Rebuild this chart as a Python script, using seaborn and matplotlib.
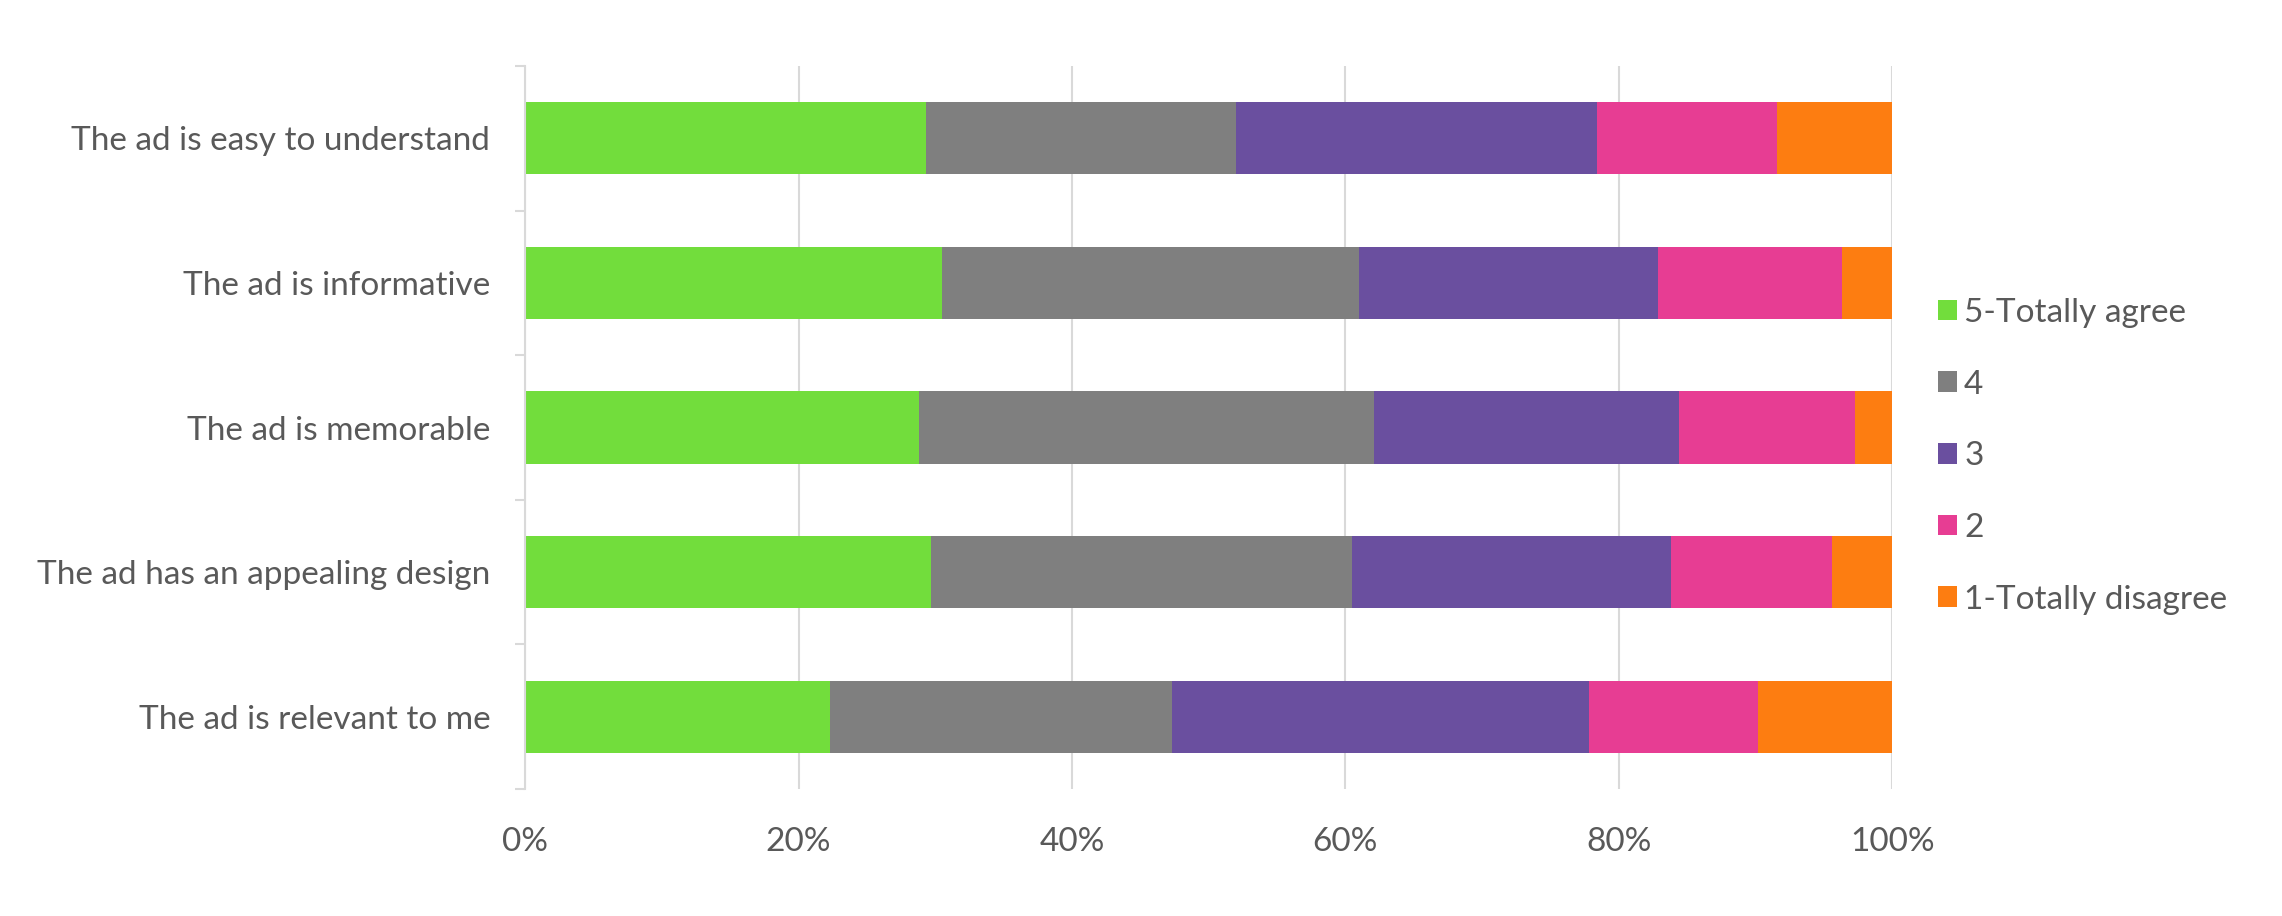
import matplotlib
matplotlib.use("Agg")
import matplotlib.pyplot as plt
import numpy as np
import pandas as pd
import seaborn as sns
from matplotlib.patches import Patch
from matplotlib.ticker import FixedLocator, PercentFormatter

sns.set_theme(style="white")
plt.rcParams["font.family"] = ["Lato", "DejaVu Sans"]

TEXT_COLOR = "#595959"
GRID_COLOR = "#D9D9D9"

statements = [
    "The ad is easy to understand",
    "The ad is informative",
    "The ad is memorable",
    "The ad has an appealing design",
    "The ad is relevant to me",
]
levels = ["5-Totally agree", "4", "3", "2", "1-Totally disagree"]
level_colors = ["#72DD3C", "#7F7F7F", "#6A4F9F", "#E73D93", "#FD7D11"]

# share of answers per statement, in percent
agree_5 = [29.3, 30.5, 28.8, 29.7, 22.3]
agree_4 = [22.7, 30.5, 33.3, 30.8, 25.0]
agree_3 = [26.4, 21.9, 22.3, 23.3, 30.5]
agree_2 = [13.2, 13.4, 12.9, 11.8, 12.4]
agree_1 = [8.4, 3.7, 2.7, 4.4, 9.8]


def build_frame() -> pd.DataFrame:
    shares = pd.DataFrame(
        {"statement": statements, levels[0]: agree_5, levels[1]: agree_4,
         levels[2]: agree_3, levels[3]: agree_2, levels[4]: agree_1}
    ).set_index("statement")
    cumulative = shares.cumsum(axis=1)
    return cumulative.reset_index().melt(id_vars="statement", var_name="level", value_name="cum")


def main() -> None:
    df = build_frame()

    fig = plt.figure(figsize=(22.82, 9.16), dpi=100)
    ax = fig.add_axes([0.2301, 0.1386, 0.5991, 0.7893])

    # draw the longest stack first, shorter ones on top
    for level, color in reversed(list(zip(levels, level_colors))):
        sns.barplot(
            data=df[df["level"] == level],
            x="cum",
            y="statement",
            order=statements,
            orient="h",
            color=color,
            width=0.5,
            saturation=1,
            linewidth=0,
            ax=ax,
        )

    ax.set_xlim(0, 100)
    ax.set_ylim(4.5, -0.5)
    ax.set_xlabel("")
    ax.set_ylabel("")
    ax.set_xticks(np.arange(0, 101, 20))
    ax.xaxis.set_major_formatter(PercentFormatter(decimals=0))
    ax.grid(axis="x", color=GRID_COLOR, linewidth=1.5)
    ax.set_axisbelow(True)

    for side in ["top", "right", "bottom"]:
        ax.spines[side].set_visible(False)
    ax.spines["left"].set_color(GRID_COLOR)
    ax.spines["left"].set_linewidth(1.5)

    ax.yaxis.set_minor_locator(FixedLocator(np.arange(-0.5, 5, 1)))
    ax.tick_params(axis="y", which="minor", left=True, length=7, width=1.5, color=GRID_COLOR)
    ax.tick_params(axis="y", which="major", left=False, length=0, pad=25,
                   labelsize=24, labelcolor=TEXT_COLOR)
    ax.tick_params(axis="x", which="major", bottom=False, length=0, pad=27,
                   labelsize=24, labelcolor=TEXT_COLOR)

    handles = [Patch(facecolor=c, edgecolor="none", label=l) for l, c in zip(levels, level_colors)]
    fig.legend(
        handles=handles,
        loc="center left",
        bbox_to_anchor=(0.8363, 0.502),
        frameon=False,
        fontsize=24,
        labelcolor=TEXT_COLOR,
        handlelength=0.57,
        handleheight=0.57,
        handletextpad=0.2,
        labelspacing=1.25,
    )

    fig.savefig("out.png", dpi=100, facecolor="white")
    plt.close(fig)


if __name__ == "__main__":
    main()
